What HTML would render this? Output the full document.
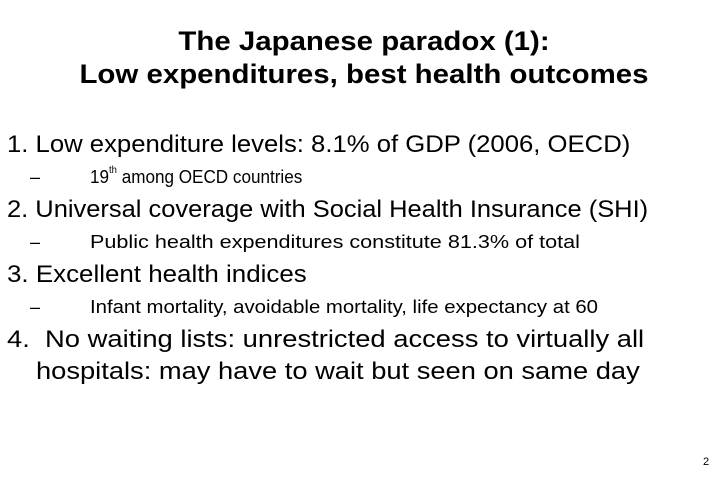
<!DOCTYPE html>
<html><head><meta charset="utf-8"><style>
body{margin:0;width:728px;height:485px;background:#fff;font-family:"Liberation Sans",Arial,sans-serif;color:#000;position:relative;overflow:hidden}
.t{position:absolute;white-space:nowrap;line-height:1;transform-origin:0 0}
.title{left:0;width:728px;text-align:center;font-weight:bold;font-size:27px;transform-origin:50% 0}
.l1{left:7px;font-size:24px}
.l2{left:90px;font-size:18px}
.dash{position:absolute;left:30px;font-size:18px;line-height:1}
sup{font-size:10px;vertical-align:top;position:relative;top:-2px}
</style></head><body>
<div class="t title" style="top:28px;transform:scaleX(1.09)">The Japanese paradox (1):</div>
<div class="t title" style="top:61px;transform:scaleX(1.09)">Low expenditures, best health outcomes</div>
<div class="t l1" style="top:133px;transform:scaleX(1.07)">1. Low expenditure levels: 8.1% of GDP (2006, OECD)</div>
<div class="dash" style="top:168px">–</div>
<div class="t l2" style="top:168px;transform:scaleX(0.95)">19<sup>th</sup> among OECD countries</div>
<div class="t l1" style="top:198px;transform:scaleX(1.061)">2. Universal coverage with Social Health Insurance (SHI)</div>
<div class="dash" style="top:233px">–</div>
<div class="t l2" style="top:233px;transform:scaleX(1.2)">Public health expenditures constitute 81.3% of total</div>
<div class="t l1" style="top:263px;transform:scaleX(1.08)">3. Excellent health indices</div>
<div class="dash" style="top:298px">–</div>
<div class="t l2" style="top:298px;transform:scaleX(1.13)">Infant mortality, avoidable mortality, life expectancy at 60</div>
<div class="t l1" style="top:328px;transform:scaleX(1.14)">4.&nbsp; No waiting lists: unrestricted access to virtually all</div>
<div class="t l1" style="top:360px;left:36px;transform:scaleX(1.137)">hospitals: may have to wait but seen on same day</div>
<div class="t" style="top:457px;left:703px;font-size:11px">2</div>
</body></html>
